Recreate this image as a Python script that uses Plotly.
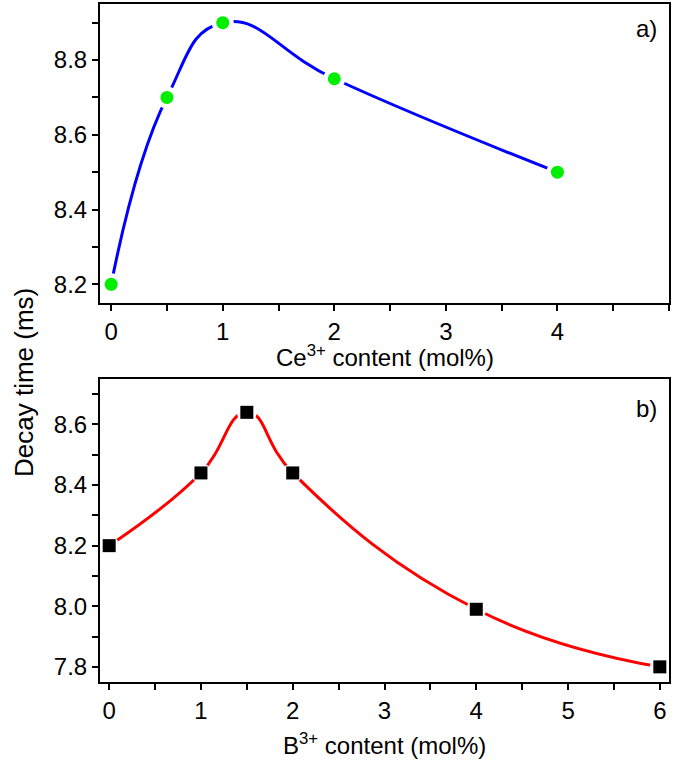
import plotly.graph_objects as go

# Panel a): decay time versus Ce3+ content
ce_content = [0, 0.5, 1, 2, 4]
ce_decay = [8.2, 8.7, 8.9, 8.75, 8.5]

# Panel b): decay time versus B3+ content
b_content = [0, 1, 1.5, 2, 4, 6]
b_decay = [8.2, 8.44, 8.64, 8.44, 7.99, 7.8]

FONT = "Liberation Sans, Arial, sans-serif"
W, H = 675, 760

fig = go.Figure()

# --- panel a) ---
fig.add_trace(go.Scatter(x=ce_content, y=ce_decay, mode="lines",
                         line=dict(color="#0000ff", width=3, shape="spline", smoothing=1.3),
                         xaxis="x", yaxis="y", hoverinfo="skip"))
# white halo so the curve stops short of each symbol
fig.add_trace(go.Scatter(x=ce_content, y=ce_decay, mode="markers",
                         marker=dict(color="white", size=22, symbol="circle"),
                         xaxis="x", yaxis="y", hoverinfo="skip"))
fig.add_trace(go.Scatter(x=ce_content, y=ce_decay, mode="markers",
                         marker=dict(color="#00ee00", size=13, symbol="circle"),
                         xaxis="x", yaxis="y"))

# --- panel b) ---
fig.add_trace(go.Scatter(x=b_content, y=b_decay, mode="lines",
                         line=dict(color="#ff0000", width=3, shape="spline", smoothing=1.3),
                         xaxis="x2", yaxis="y2", hoverinfo="skip"))
fig.add_trace(go.Scatter(x=b_content, y=b_decay, mode="markers",
                         marker=dict(color="white", size=20, symbol="circle"),
                         xaxis="x2", yaxis="y2", hoverinfo="skip"))
fig.add_trace(go.Scatter(x=b_content, y=b_decay, mode="markers",
                         marker=dict(color="black", size=13, symbol="square"),
                         xaxis="x2", yaxis="y2"))

x_dom = [100 / W, 669 / W]
top_dom = [1 - 303 / H, 1 - 4 / H]
bot_dom = [1 - 682 / H, 1 - 379 / H]

axis_common = dict(
    showline=True, linecolor="black", linewidth=2, mirror=True,
    ticks="outside", ticklen=6, tickwidth=2, tickcolor="black",
    showgrid=False, zeroline=False,
    tickfont=dict(family=FONT, size=24, color="black"),
)
minor_common = dict(ticks="outside", ticklen=6, tickwidth=2, tickcolor="black", showgrid=False)

fig.update_layout(
    width=W, height=H,
    margin=dict(l=0, r=0, t=0, b=0),
    paper_bgcolor="white", plot_bgcolor="white",
    showlegend=False,
    xaxis=dict(domain=x_dom, anchor="y", range=[-0.1, 5], tickvals=[0, 1, 2, 3, 4, 5],
               minor=dict(dtick=0.5, **minor_common), **axis_common),
    yaxis=dict(domain=top_dom, anchor="x", range=[8.15, 8.95],
               tickvals=[8.2, 8.4, 8.6, 8.8], ticktext=["8.2", "8.4", "8.6", "8.8"],
               minor=dict(tickvals=[8.3, 8.5, 8.7, 8.9], **minor_common), **axis_common),
    xaxis2=dict(domain=x_dom, anchor="y2", range=[-0.1, 6.1], tickvals=[0, 1, 2, 3, 4, 5, 6],
                minor=dict(dtick=0.5, **minor_common), **axis_common),
    yaxis2=dict(domain=bot_dom, anchor="x2", range=[7.75, 8.75],
                tickvals=[7.8, 8.0, 8.2, 8.4, 8.6], ticktext=["7.8", "8.0", "8.2", "8.4", "8.6"],
                minor=dict(tickvals=[7.9, 8.1, 8.3, 8.5, 8.7], **minor_common), **axis_common),
)

title_font = dict(family=FONT, size=24, color="black")
fig.add_annotation(text="Ce<sup>3+</sup> content (mol%)", xref="paper", yref="paper",
                   x=384.5 / W, y=1 - 356 / H, showarrow=False, font=title_font,
                   xanchor="center", yanchor="middle")
fig.add_annotation(text="B<sup>3+</sup> content (mol%)", xref="paper", yref="paper",
                   x=384.5 / W, y=1 - 744 / H, showarrow=False, font=title_font,
                   xanchor="center", yanchor="middle")
fig.add_annotation(text="Decay time (ms)", xref="paper", yref="paper",
                   x=24 / W, y=1 - 383 / H, showarrow=False,
                   font=dict(family=FONT, size=26, color="black"),
                   textangle=-90, xanchor="center", yanchor="middle")
fig.add_annotation(text="a)", xref="paper", yref="paper",
                   x=659 / W, y=1 - 28 / H, showarrow=False, font=title_font,
                   xanchor="right", yanchor="middle")
fig.add_annotation(text="b)", xref="paper", yref="paper",
                   x=659 / W, y=1 - 409 / H, showarrow=False, font=title_font,
                   xanchor="right", yanchor="middle")

fig.write_html("out.html")
